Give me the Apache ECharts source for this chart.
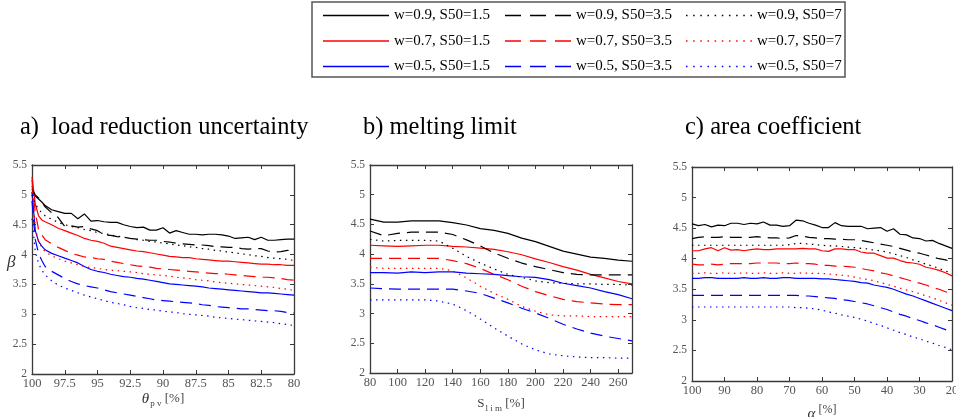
<!DOCTYPE html>
<html>
<head>
<meta charset="utf-8">
<script src="https://cdn.jsdelivr.net/npm/echarts@6/dist/echarts.min.js"></script>
<style>
  html, body { margin: 0; padding: 0; background: #fff; }
  #chart { width: 956px; height: 417px; }
</style>
</head>
<body>
<div id="chart"></div>
<script>
// ---- reliability index beta for three sensitivity studies ----

// a) load reduction uncertainty, theta_pv [%]
const X_A = [100, 99.75, 99.5, 99.25, 99, 98.5, 98, 97.5, 97, 96.5, 96, 95.5, 95, 94.5, 94, 93.5, 93, 92.5, 92, 91.5, 91, 90.5, 90, 89.5, 89, 88.5, 88, 87.5, 87, 86.5, 86, 85.5, 85, 84.5, 84, 83.5, 83, 82.5, 82, 81.5, 81, 80.5, 80];
const A_w09_s15 = [5.05, 4.98, 4.93, 4.88, 4.82, 4.75, 4.72, 4.69, 4.69, 4.60, 4.68, 4.56, 4.57, 4.55, 4.54, 4.54, 4.50, 4.47, 4.45, 4.46, 4.41, 4.41, 4.45, 4.36, 4.40, 4.37, 4.34, 4.34, 4.33, 4.34, 4.34, 4.33, 4.31, 4.27, 4.28, 4.29, 4.25, 4.29, 4.24, 4.24, 4.25, 4.26, 4.26];
const A_w09_s35 = [5.10, 5.00, 4.95, 4.88, 4.80, 4.70, 4.62, 4.47, 4.48, 4.46, 4.47, 4.43, 4.40, 4.33, 4.32, 4.30, 4.29, 4.27, 4.26, 4.25, 4.24, 4.24, 4.22, 4.21, 4.19, 4.18, 4.17, 4.16, 4.16, 4.15, 4.13, 4.13, 4.12, 4.12, 4.10, 4.09, 4.10, 4.10, 4.06, 4.04, 4.05, 4.07, 4.06];
const A_w09_s7 = [5.00, 4.85, 4.76, 4.70, 4.65, 4.59, 4.54, 4.50, 4.47, 4.45, 4.42, 4.40, 4.37, 4.35, 4.33, 4.31, 4.29, 4.27, 4.25, 4.24, 4.22, 4.21, 4.19, 4.18, 4.16, 4.15, 4.13, 4.12, 4.10, 4.09, 4.07, 4.06, 4.04, 4.03, 4.01, 4.00, 3.98, 3.97, 3.95, 3.94, 3.93, 3.92, 3.90];
const A_w07_s15 = [5.30, 4.85, 4.65, 4.58, 4.55, 4.50, 4.44, 4.40, 4.36, 4.32, 4.27, 4.24, 4.22, 4.19, 4.14, 4.12, 4.10, 4.08, 4.06, 4.05, 4.03, 4.01, 3.99, 3.97, 3.96, 3.95, 3.95, 3.93, 3.92, 3.91, 3.90, 3.89, 3.89, 3.88, 3.87, 3.86, 3.85, 3.84, 3.84, 3.83, 3.83, 3.82, 3.82];
const A_w07_s35 = [5.25, 4.70, 4.42, 4.33, 4.25, 4.18, 4.12, 4.07, 4.02, 3.99, 3.96, 3.95, 3.93, 3.92, 3.89, 3.87, 3.85, 3.83, 3.81, 3.80, 3.79, 3.77, 3.76, 3.75, 3.74, 3.73, 3.72, 3.71, 3.70, 3.69, 3.68, 3.68, 3.67, 3.66, 3.65, 3.64, 3.63, 3.62, 3.62, 3.61, 3.60, 3.58, 3.57];
const A_w07_s7 = [5.15, 4.45, 4.22, 4.12, 4.05, 3.98, 3.93, 3.89, 3.86, 3.83, 3.80, 3.78, 3.77, 3.75, 3.74, 3.73, 3.72, 3.71, 3.70, 3.68, 3.67, 3.66, 3.65, 3.64, 3.62, 3.61, 3.60, 3.58, 3.57, 3.56, 3.54, 3.53, 3.52, 3.51, 3.50, 3.49, 3.48, 3.47, 3.46, 3.45, 3.43, 3.42, 3.40];
const A_w05_s15 = [5.05, 4.40, 4.22, 4.14, 4.08, 4.02, 3.98, 3.94, 3.90, 3.86, 3.80, 3.75, 3.72, 3.70, 3.67, 3.65, 3.63, 3.62, 3.60, 3.59, 3.57, 3.55, 3.53, 3.51, 3.50, 3.49, 3.48, 3.47, 3.46, 3.44, 3.43, 3.42, 3.41, 3.40, 3.39, 3.38, 3.37, 3.36, 3.36, 3.35, 3.34, 3.33, 3.32];
const A_w05_s35 = [4.90, 4.25, 4.02, 3.90, 3.80, 3.72, 3.66, 3.60, 3.55, 3.51, 3.48, 3.46, 3.44, 3.41, 3.38, 3.36, 3.34, 3.32, 3.30, 3.28, 3.26, 3.24, 3.23, 3.22, 3.21, 3.20, 3.19, 3.18, 3.16, 3.15, 3.13, 3.12, 3.11, 3.10, 3.09, 3.09, 3.08, 3.07, 3.06, 3.06, 3.05, 3.03, 3.02];
const A_w05_s7 = [4.60, 4.05, 3.85, 3.74, 3.66, 3.56, 3.49, 3.44, 3.40, 3.36, 3.32, 3.29, 3.26, 3.23, 3.20, 3.18, 3.16, 3.13, 3.11, 3.10, 3.08, 3.07, 3.05, 3.04, 3.03, 3.01, 3.00, 2.99, 2.98, 2.97, 2.95, 2.94, 2.93, 2.92, 2.91, 2.90, 2.89, 2.88, 2.87, 2.86, 2.84, 2.83, 2.81];

// b) melting limit, S_lim [%]
const X_B = [80, 90, 100, 110, 120, 130, 140, 150, 160, 170, 180, 190, 200, 210, 220, 230, 240, 250, 260, 270];
const B_w09_s15 = [4.59, 4.54, 4.54, 4.56, 4.56, 4.56, 4.53, 4.49, 4.43, 4.40, 4.35, 4.27, 4.21, 4.13, 4.05, 4.00, 3.95, 3.93, 3.90, 3.88];
const B_w09_s35 = [4.39, 4.31, 4.35, 4.37, 4.37, 4.37, 4.33, 4.24, 4.14, 4.02, 3.93, 3.85, 3.79, 3.74, 3.69, 3.66, 3.65, 3.65, 3.65, 3.65];
const B_w09_s7 = [4.25, 4.22, 4.23, 4.23, 4.23, 4.22, 4.10, 3.96, 3.85, 3.75, 3.66, 3.61, 3.55, 3.52, 3.51, 3.50, 3.50, 3.49, 3.49, 3.48];
const B_w07_s15 = [4.15, 4.14, 4.13, 4.14, 4.15, 4.15, 4.13, 4.12, 4.10, 4.08, 4.04, 3.99, 3.92, 3.86, 3.79, 3.73, 3.66, 3.60, 3.54, 3.50];
const B_w07_s35 = [3.93, 3.93, 3.93, 3.93, 3.93, 3.93, 3.89, 3.84, 3.76, 3.66, 3.57, 3.46, 3.37, 3.30, 3.24, 3.20, 3.18, 3.16, 3.15, 3.15];
const B_w07_s7 = [3.78, 3.76, 3.76, 3.76, 3.76, 3.76, 3.72, 3.60, 3.46, 3.34, 3.24, 3.12, 3.04, 2.98, 2.96, 2.96, 2.95, 2.95, 2.95, 2.95];
const B_w05_s15 = [3.69, 3.69, 3.68, 3.70, 3.69, 3.70, 3.70, 3.68, 3.67, 3.66, 3.64, 3.62, 3.61, 3.57, 3.51, 3.47, 3.43, 3.37, 3.32, 3.25];
const B_w05_s35 = [3.43, 3.42, 3.41, 3.41, 3.41, 3.41, 3.41, 3.38, 3.34, 3.26, 3.18, 3.09, 3.01, 2.92, 2.82, 2.74, 2.67, 2.62, 2.58, 2.54];
const B_w05_s7 = [3.23, 3.23, 3.23, 3.23, 3.23, 3.21, 3.16, 3.05, 2.91, 2.76, 2.62, 2.49, 2.39, 2.32, 2.29, 2.27, 2.26, 2.26, 2.25, 2.25];

// c) area coefficient, alpha [%]
const X_C = [100, 98, 96, 94, 92, 90, 88, 86, 84, 82, 80, 78, 76, 74, 72, 70, 68, 66, 64, 62, 60, 58, 56, 54, 52, 50, 48, 46, 44, 42, 40, 38, 36, 34, 32, 30, 28, 26, 24, 22, 20];
const C_w09_s15 = [4.57, 4.54, 4.56, 4.52, 4.55, 4.54, 4.58, 4.58, 4.56, 4.58, 4.57, 4.60, 4.55, 4.55, 4.53, 4.54, 4.63, 4.62, 4.58, 4.55, 4.51, 4.51, 4.59, 4.54, 4.53, 4.53, 4.53, 4.49, 4.50, 4.51, 4.45, 4.49, 4.40, 4.39, 4.34, 4.33, 4.29, 4.30, 4.25, 4.21, 4.17];
const C_w09_s35 = [4.33, 4.35, 4.36, 4.35, 4.35, 4.36, 4.35, 4.35, 4.35, 4.35, 4.36, 4.35, 4.34, 4.34, 4.33, 4.34, 4.38, 4.37, 4.35, 4.34, 4.33, 4.33, 4.32, 4.32, 4.31, 4.31, 4.30, 4.28, 4.26, 4.24, 4.22, 4.20, 4.17, 4.14, 4.11, 4.09, 4.06, 4.03, 4.00, 3.98, 3.95];
const C_w09_s7 = [4.22, 4.22, 4.22, 4.22, 4.22, 4.22, 4.22, 4.22, 4.22, 4.22, 4.22, 4.22, 4.22, 4.22, 4.22, 4.23, 4.25, 4.25, 4.24, 4.23, 4.22, 4.21, 4.21, 4.20, 4.19, 4.18, 4.17, 4.16, 4.14, 4.13, 4.11, 4.08, 4.05, 4.02, 3.98, 3.95, 3.91, 3.88, 3.84, 3.80, 3.76];
const C_w07_s15 = [4.13, 4.13, 4.16, 4.18, 4.13, 4.18, 4.14, 4.15, 4.13, 4.15, 4.16, 4.15, 4.15, 4.16, 4.16, 4.16, 4.16, 4.17, 4.16, 4.16, 4.13, 4.12, 4.16, 4.16, 4.15, 4.15, 4.11, 4.09, 4.09, 4.05, 4.01, 4.01, 3.97, 3.94, 3.93, 3.91, 3.86, 3.84, 3.81, 3.77, 3.72];
const C_w07_s35 = [3.91, 3.90, 3.90, 3.91, 3.90, 3.91, 3.92, 3.92, 3.92, 3.92, 3.93, 3.93, 3.93, 3.93, 3.92, 3.92, 3.93, 3.92, 3.92, 3.91, 3.89, 3.89, 3.88, 3.88, 3.87, 3.86, 3.84, 3.82, 3.80, 3.77, 3.75, 3.72, 3.69, 3.66, 3.63, 3.60, 3.57, 3.53, 3.50, 3.46, 3.43];
const C_w07_s7 = [3.76, 3.76, 3.77, 3.76, 3.76, 3.77, 3.76, 3.76, 3.77, 3.76, 3.76, 3.77, 3.76, 3.76, 3.77, 3.76, 3.76, 3.77, 3.76, 3.76, 3.76, 3.75, 3.74, 3.73, 3.72, 3.70, 3.68, 3.66, 3.64, 3.61, 3.58, 3.55, 3.52, 3.49, 3.46, 3.43, 3.39, 3.36, 3.32, 3.28, 3.24];
const C_w05_s15 = [3.68, 3.68, 3.69, 3.69, 3.68, 3.68, 3.68, 3.68, 3.69, 3.68, 3.68, 3.69, 3.68, 3.68, 3.69, 3.69, 3.68, 3.68, 3.68, 3.68, 3.67, 3.67, 3.66, 3.65, 3.64, 3.63, 3.61, 3.60, 3.57, 3.55, 3.53, 3.50, 3.46, 3.42, 3.39, 3.35, 3.31, 3.27, 3.23, 3.19, 3.15];
const C_w05_s35 = [3.40, 3.40, 3.40, 3.40, 3.40, 3.40, 3.40, 3.40, 3.40, 3.40, 3.40, 3.40, 3.40, 3.40, 3.40, 3.40, 3.40, 3.39, 3.39, 3.38, 3.37, 3.36, 3.35, 3.33, 3.32, 3.30, 3.28, 3.26, 3.23, 3.20, 3.17, 3.13, 3.09, 3.06, 3.02, 2.99, 2.95, 2.92, 2.88, 2.84, 2.80];
const C_w05_s7 = [3.21, 3.21, 3.21, 3.21, 3.21, 3.21, 3.21, 3.21, 3.21, 3.21, 3.21, 3.21, 3.21, 3.21, 3.21, 3.21, 3.20, 3.20, 3.19, 3.18, 3.16, 3.13, 3.11, 3.08, 3.06, 3.04, 3.01, 2.98, 2.94, 2.91, 2.87, 2.83, 2.79, 2.76, 2.72, 2.69, 2.65, 2.62, 2.58, 2.55, 2.51];

// legend entries, one column per S50 value, rows w = 0.9 / 0.7 / 0.5
const NAMES_S15 = ['w=0.9, S50=1.5', 'w=0.7, S50=1.5', 'w=0.5, S50=1.5'];
const NAMES_S35 = ['w=0.9, S50=3.5', 'w=0.7, S50=3.5', 'w=0.5, S50=3.5'];
const NAMES_S7  = ['w=0.9, S50=7',   'w=0.7, S50=7',   'w=0.5, S50=7'];

const TITLES = ['a)  load reduction uncertainty', 'b) melting limit', 'c) area coefficient'];
const Y_TICKS = { min: 2, max: 5.5, step: 0.5 };

// ---- styling ----
const SERIF = '"Liberation Serif", "DejaVu Serif", serif';
const COLORS = ['#000000', '#ff0000', '#0000ff'];          // w = 0.9, 0.7, 0.5
const DASH = { solid: 'solid', dashed: [12, 7], dotted: [1.5, 4.5] };
const AXIS_COLOR = '#3a3a3a';
const LABEL_COLOR = '#555555';

const grids = [
  { left: 32,  top: 165, width: 262, height: 209, outerBoundsMode: 'none' },
  { left: 370, top: 165, width: 262, height: 208, outerBoundsMode: 'none' },
  { left: 692, top: 167, width: 260, height: 214, outerBoundsMode: 'none' }
];

const panels = [
  { x: X_A, ys: [[A_w09_s15, A_w07_s15, A_w05_s15], [A_w09_s35, A_w07_s35, A_w05_s35], [A_w09_s7, A_w07_s7, A_w05_s7]],
    xMin: 80, xMax: 100, xStep: 2.5, inverse: true,
    xName: '{i|θ}{s|p v} {n|[%]}', xNameGap: 16 },
  { x: X_B, ys: [[B_w09_s15, B_w07_s15, B_w05_s15], [B_w09_s35, B_w07_s35, B_w05_s35], [B_w09_s7, B_w07_s7, B_w05_s7]],
    xMin: 80, xMax: 270, xStep: 20, inverse: false,
    xName: '{n|S}{s|l i m} {n|[%]}', xNameGap: 22 },
  { x: X_C, ys: [[C_w09_s15, C_w07_s15, C_w05_s15], [C_w09_s35, C_w07_s35, C_w05_s35], [C_w09_s7, C_w07_s7, C_w05_s7]],
    xMin: 20, xMax: 100, xStep: 10, inverse: true,
    xName: '{i|α} {p|[%]}', xNameGap: 23 }
];

const nameRich = {
  i: { fontFamily: SERIF, fontStyle: 'italic', fontSize: 15, color: '#333' },
  n: { fontFamily: SERIF, fontSize: 13, color: '#444' },
  s: { fontFamily: SERIF, fontSize: 9, color: '#444', padding: [9, 0, 0, 1] },
  p: { fontFamily: SERIF, fontSize: 12, color: '#444', padding: [0, 0, 8, 0] }
};

const xAxes = [], yAxes = [], series = [];
panels.forEach((p, g) => {
  const common = {
    type: 'value', gridIndex: g, min: p.xMin, max: p.xMax, interval: p.xStep, inverse: p.inverse,
    splitLine: { show: false },
    axisLine: { show: true, lineStyle: { color: AXIS_COLOR, width: 1.3 } },
    axisTick: { show: true, inside: true, length: 4, lineStyle: { color: AXIS_COLOR } }
  };
  xAxes.push(Object.assign({}, common, {
    position: 'bottom',
    axisLabel: { color: LABEL_COLOR, fontFamily: SERIF, fontSize: 12.5, margin: 3 },
    name: p.xName, nameLocation: 'middle', nameGap: p.xNameGap, nameMoveOverlap: false,
    nameTextStyle: { rich: nameRich }
  }));
  xAxes.push(Object.assign({}, common, { position: 'top', axisLabel: { show: false } }));

  const ycommon = {
    type: 'value', gridIndex: g, min: Y_TICKS.min, max: Y_TICKS.max, interval: Y_TICKS.step,
    splitLine: { show: false },
    axisLine: { show: true, onZero: false, lineStyle: { color: AXIS_COLOR, width: 1.3 } },
    axisTick: { show: true, inside: true, length: 4, lineStyle: { color: AXIS_COLOR } }
  };
  yAxes.push(Object.assign({}, ycommon, {
    position: 'left',
    axisLabel: { color: LABEL_COLOR, fontFamily: SERIF, fontSize: 11.5, margin: 5 }
  }));
  yAxes.push(Object.assign({}, ycommon, { position: 'right', axisLabel: { show: false } }));

  const dashes = [DASH.solid, DASH.dashed, DASH.dotted];
  const names = [NAMES_S15, NAMES_S35, NAMES_S7];
  p.ys.forEach((group, k) => {
    group.forEach((ys, c) => {
      series.push({
        name: names[k][c],
        type: 'line',
        xAxisIndex: g * 2, yAxisIndex: g * 2,
        data: p.x.map((x, i) => [x, ys[i]]),
        showSymbol: false, symbol: 'none',
        animation: false,
        silent: true,
        lineStyle: { color: COLORS[c], width: 1.2, type: dashes[k] },
        itemStyle: { color: COLORS[c] }
      });
    });
  });
});

// legend sample glyphs: thin filled strips forming a solid, dashed or dotted line
const SAMPLE_W = 66, SAMPLE_H = 1.4;
function stripPath(segLen, period) {
  let d = '';
  for (let x = 0; x < SAMPLE_W - 0.01; x += period) {
    const w = Math.min(segLen, SAMPLE_W - x);
    d += 'M' + x.toFixed(2) + ',0h' + w.toFixed(2) + 'v' + SAMPLE_H + 'h-' + w.toFixed(2) + 'z';
  }
  return 'path://' + d;
}
const ICON_SOLID = stripPath(SAMPLE_W, SAMPLE_W);
const ICON_DASHED = stripPath(16, 25);
const ICON_DOTTED = stripPath(1.5, 7.16);

const legendText = { fontFamily: SERIF, fontSize: 15, color: '#000' };
function legendColumn(left, names, icon) {
  return {
    left: left, top: 8, orient: 'vertical',
    icon: icon, itemWidth: SAMPLE_W, itemHeight: SAMPLE_H, itemGap: 10.5,
    textStyle: legendText, selectedMode: false, padding: 0,
    data: names.map((n, c) => ({ name: n, itemStyle: { color: COLORS[c] } }))
  };
}

const option = {
  backgroundColor: '#ffffff',
  animation: false,
  title: TITLES.map((t, i) => ({
    text: t,
    left: [15, 358, 680][i], top: 110,
    textStyle: { fontFamily: SERIF, fontSize: 24.5, fontWeight: 'normal', color: '#000' }
  })),
  legend: [
    legendColumn(323, NAMES_S15, ICON_SOLID),
    legendColumn(505, NAMES_S35, ICON_DASHED),
    legendColumn(686, NAMES_S7, ICON_DOTTED)
  ],
  grid: grids,
  xAxis: xAxes,
  yAxis: yAxes,
  series: series,
  graphic: [
    { type: 'rect', shape: { x: 312, y: 2, width: 533, height: 75 },
      style: { fill: 'none', stroke: '#555', lineWidth: 1.5 }, silent: true },
    { type: 'text', left: 7, top: 254,
      style: { text: 'β', font: 'italic 17px ' + SERIF, fill: '#333' } }
  ]
};

const chart = echarts.init(document.getElementById('chart'), null, { renderer: 'canvas' });
chart.setOption(option);
</script>
</body>
</html>
